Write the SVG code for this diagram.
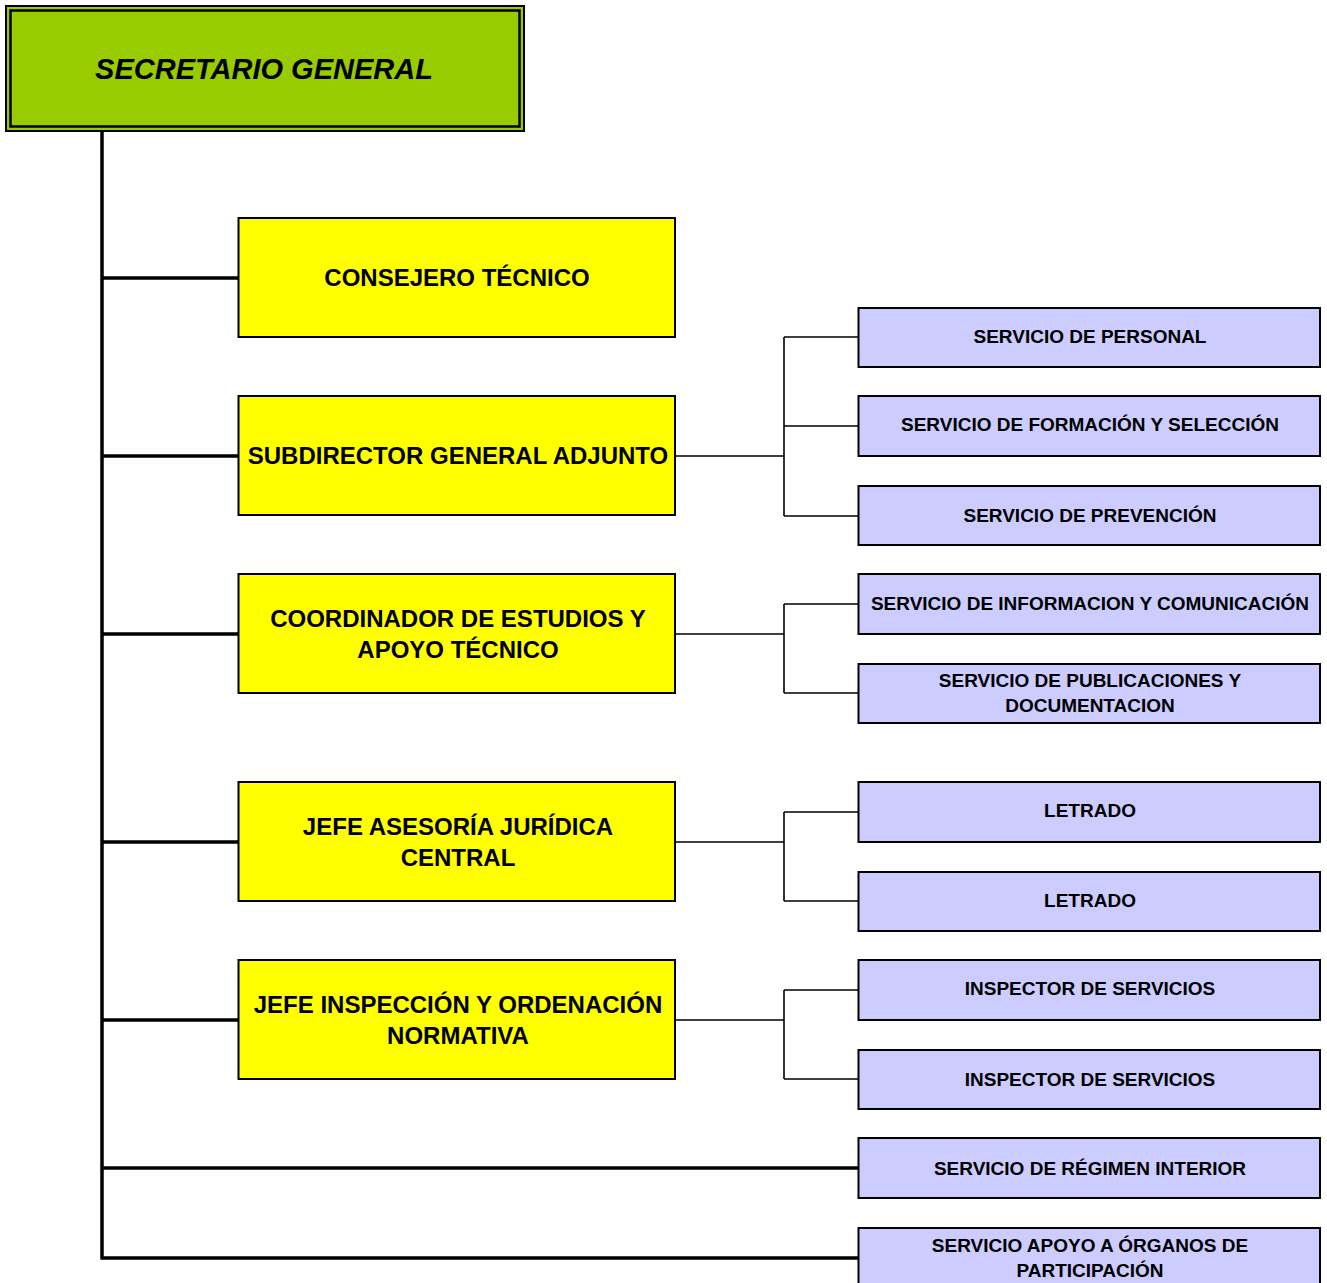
<svg xmlns="http://www.w3.org/2000/svg" width="1327" height="1283" viewBox="0 0 1327 1283">
<style>
.ye{fill:#FFFF00;stroke:#000;stroke-width:2}
.pu{fill:#CCCCFF;stroke:#000;stroke-width:2}
.yt{font-family:"Liberation Sans",Arial,sans-serif;font-weight:bold;font-size:24px;text-anchor:middle;fill:#000}
.pt{font-family:"Liberation Sans",Arial,sans-serif;font-weight:bold;font-size:19px;text-anchor:middle;fill:#000}
.thick{stroke:#000;stroke-width:3.5;fill:none}
.thin{stroke:#000;stroke-width:1.6;fill:none}
</style>
<rect width="1327" height="1283" fill="#fff"/>
<g id="connectors">
<path class="thick" d="M102,131 V1259 M102,278 H238 M102,456 H238 M102,634 H238 M102,842 H238 M102,1020 H238 M102,1168 H858 M100.5,1258 H858"/>
<path class="thin" d="M675,456 H784 M784,337 V516 M784,337 H858 M784,426 H858 M784,516 H858"/>
<path class="thin" d="M675,634 H784 M784,604 V693 M784,604 H858 M784,693 H858"/>
<path class="thin" d="M675,842 H784 M784,812 V901 M784,812 H858 M784,901 H858"/>
<path class="thin" d="M675,1020 H784 M784,990 V1079 M784,990 H858 M784,1079 H858"/>
</g>
<g id="secretario">
<rect x="6" y="6" width="518" height="125" fill="#99CC00" stroke="#000" stroke-width="2"/>
<rect x="10.5" y="10.5" width="509" height="116" fill="none" stroke="#000" stroke-width="2.5"/>
<text x="264" y="78.5" font-family="'Liberation Sans',Arial,sans-serif" font-weight="bold" font-style="italic" font-size="29" text-anchor="middle">SECRETARIO GENERAL</text>
</g>
<g id="consejero"><rect class="ye" x="238.5" y="218" width="436.5" height="119"/><text class="yt" x="457" y="285.5">CONSEJERO TÉCNICO</text></g>
<g id="subdirector"><rect class="ye" x="238.5" y="396" width="436.5" height="119"/><text class="yt" x="458" y="464">SUBDIRECTOR GENERAL ADJUNTO</text></g>
<g id="coordinador"><rect class="ye" x="238.5" y="574" width="436.5" height="119"/><text class="yt" x="458" y="626.5">COORDINADOR DE ESTUDIOS Y</text><text class="yt" x="458" y="657.5">APOYO TÉCNICO</text></g>
<g id="juridica"><rect class="ye" x="238.5" y="782" width="436.5" height="119"/><text class="yt" x="458" y="834.5">JEFE ASESORÍA JURÍDICA</text><text class="yt" x="458" y="865.5">CENTRAL</text></g>
<g id="inspeccion"><rect class="ye" x="238.5" y="960" width="436.5" height="119"/><text class="yt" x="458" y="1012.5">JEFE INSPECCIÓN Y ORDENACIÓN</text><text class="yt" x="458" y="1043.5">NORMATIVA</text></g>
<g id="personal"><rect class="pu" x="858.5" y="308" width="461.5" height="59"/><text class="pt" x="1090" y="342.5">SERVICIO DE PERSONAL</text></g>
<g id="formacion"><rect class="pu" x="858.5" y="396" width="461.5" height="60"/><text class="pt" x="1090" y="430.5">SERVICIO DE FORMACIÓN Y SELECCIÓN</text></g>
<g id="prevencion"><rect class="pu" x="858.5" y="486" width="461.5" height="59"/><text class="pt" x="1090" y="521.5">SERVICIO DE PREVENCIÓN</text></g>
<g id="informacion"><rect class="pu" x="858.5" y="574" width="461.5" height="60"/><text class="pt" x="1090" y="609.5">SERVICIO DE INFORMACION Y COMUNICACIÓN</text></g>
<g id="publicaciones"><rect class="pu" x="858.5" y="664" width="461.5" height="59"/><text class="pt" x="1090" y="686.5">SERVICIO DE PUBLICACIONES Y</text><text class="pt" x="1090" y="711.5">DOCUMENTACION</text></g>
<g id="letrado1"><rect class="pu" x="858.5" y="782" width="461.5" height="60"/><text class="pt" x="1090" y="816.5">LETRADO</text></g>
<g id="letrado2"><rect class="pu" x="858.5" y="872" width="461.5" height="59"/><text class="pt" x="1090" y="906.5">LETRADO</text></g>
<g id="inspector1"><rect class="pu" x="858.5" y="960" width="461.5" height="60"/><text class="pt" x="1090" y="994.5">INSPECTOR DE SERVICIOS</text></g>
<g id="inspector2"><rect class="pu" x="858.5" y="1050" width="461.5" height="59"/><text class="pt" x="1090" y="1085.5">INSPECTOR DE SERVICIOS</text></g>
<g id="regimen"><rect class="pu" x="858.5" y="1138" width="461.5" height="60"/><text class="pt" x="1090" y="1174.5">SERVICIO DE RÉGIMEN INTERIOR</text></g>
<g id="organos"><rect class="pu" x="858.5" y="1228" width="461.5" height="60"/><text class="pt" x="1090" y="1251.5">SERVICIO APOYO A ÓRGANOS DE</text><text class="pt" x="1090" y="1276.5">PARTICIPACIÓN</text></g>
</svg>
